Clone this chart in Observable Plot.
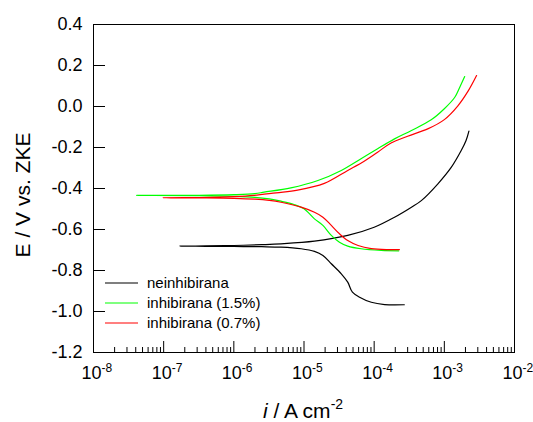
<!DOCTYPE html>
<html><head><meta charset="utf-8">
<script src="https://cdn.jsdelivr.net/npm/d3@7"></script>
<script src="https://cdn.jsdelivr.net/npm/@observablehq/plot@0.6"></script>
<style>body{margin:0;background:#fff} svg{display:block}</style>
</head><body><div id="chart"></div>
<script>
const seriesNames = ["neinhibirana", "inhibirana (1.5%)", "inhibirana (0.7%)"];
const seriesColors = ["#000000", "#00ff00", "#ff0000"];

// each curve traced from the cathodic end, through Ecorr, to the anodic end
const blackI = [2.69e-4, 1.41e-4, 9.1e-5, 6.2e-5, 4.9e-5, 4.2e-5, 3.4e-5, 2.45e-5, 1.86e-5, 1.41e-5, 9.1e-6, 4.7e-6, 2.5e-6, 1.0e-6, 4.0e-7, 1.7e-7,
  4.0e-7, 1.0e-6, 2.5e-6, 4.7e-6, 1.41e-5, 4.2e-5, 1.0e-4, 1.95e-4, 3.4e-4, 4.7e-4, 8.1e-4, 1.26e-3, 1.74e-3, 2.04e-3, 2.24e-3];
const blackE = [-0.967, -0.966, -0.955, -0.930, -0.906, -0.857, -0.816, -0.767, -0.727, -0.707, -0.694, -0.686, -0.684, -0.683, -0.682, -0.681,
  -0.680, -0.678, -0.674, -0.670, -0.657, -0.629, -0.589, -0.540, -0.491, -0.459, -0.377, -0.296, -0.215, -0.166, -0.120];

const greenI = [2.24e-4, 1.26e-4, 6.5e-5, 4.2e-5, 3.2e-5, 2.45e-5, 1.86e-5, 1.41e-5, 1.0e-5, 7.2e-6, 4.7e-6, 3.2e-6, 2.0e-6, 1.0e-6, 3.2e-7, 4.1e-8,
  3.2e-7, 1.0e-6, 2.0e-6, 2.7e-6, 6.5e-6, 1.58e-5, 3.4e-5, 6.5e-5, 1.12e-4, 1.95e-4, 3.4e-4, 6.5e-4, 1.0e-3, 1.41e-3, 1.66e-3, 1.95e-3];
const greenE = [-0.704, -0.702, -0.694, -0.681, -0.662, -0.629, -0.580, -0.548, -0.499, -0.478, -0.462, -0.451, -0.443, -0.438, -0.435, -0.434,
  -0.433, -0.430, -0.425, -0.418, -0.397, -0.361, -0.312, -0.255, -0.206, -0.158, -0.117, -0.065, -0.011, 0.045, 0.094, 0.146];

const redI = [2.29e-4, 1.58e-4, 9.1e-5, 5.9e-5, 4.2e-5, 3.2e-5, 2.45e-5, 1.86e-5, 1.41e-5, 9.1e-6, 4.7e-6, 3.2e-6, 2.0e-6, 1.0e-6, 3.2e-7, 9.8e-8,
  3.2e-7, 1.0e-6, 1.95e-6, 4.0e-6, 8.1e-6, 1.95e-5, 4.2e-5, 7.2e-5, 1.12e-4, 1.74e-4, 3.0e-4, 5.9e-4, 1.0e-3, 1.55e-3, 2.19e-3, 2.88e-3];
const redE = [-0.698, -0.698, -0.693, -0.678, -0.654, -0.621, -0.580, -0.540, -0.516, -0.491, -0.467, -0.458, -0.452, -0.448, -0.446, -0.445,
  -0.444, -0.440, -0.434, -0.421, -0.408, -0.375, -0.312, -0.267, -0.223, -0.178, -0.145, -0.108, -0.064, 0.002, 0.076, 0.151];

const xMajorTicks = [1e-8, 1e-7, 1e-6, 1e-5, 1e-4, 1e-3, 1e-2];
const yTicks = [-1.2, -1.0, -0.8, -0.6, -0.4, -0.2, 0.0, 0.2, 0.4];
const xLabel = ["i", " / A cm", "-2"];
const yLabel = "E / V vs. ZKE";

const xMinorTicks = [];
xMajorTicks.slice(0, -1).forEach(d => { for (let k = 2; k <= 9; k++) xMinorTicks.push(d * k); });

const allI = [blackI, greenI, redI];
const allE = [blackE, greenE, redE];
const rows = [];
allI.forEach((arr, s) => arr.forEach((v, j) => rows.push({series: seriesNames[s], i: v, E: allE[s][j], order: j})));

const font = "'Liberation Sans', Arial, sans-serif";
const W = 533, H = 422, mL = 93, mR = 19, mT = 24, mB = 70;
const plotW = W - mL - mR, plotH = H - mT - mB;

const svg = Plot.plot({
  width: W, height: H,
  marginLeft: mL, marginRight: mR, marginTop: mT, marginBottom: mB,
  style: {fontFamily: font, background: "#fff", color: "#000"},
  x: {type: "log", domain: [1e-8, 1e-2]},
  y: {domain: [-1.2, 0.4]},
  color: {domain: seriesNames, range: seriesColors},
  marks: [
    Plot.axisY({ticks: yTicks, tickSize: 0, tickPadding: 11, fontSize: 18, label: null, tickFormat: d => d.toFixed(1)}),
    Plot.axisX({ticks: xMajorTicks, tickSize: 0, tickPadding: 14, fontSize: 18, label: null, tickFormat: d => "10^" + Math.round(Math.log10(d))}),
    // inward ticks
    Plot.tickY(yTicks, {y: d => d, stroke: "#000", insetRight: plotW - 12}),
    Plot.tickX(xMajorTicks, {x: d => d, stroke: "#000", insetTop: plotH - 11}),
    Plot.tickX(xMinorTicks, {x: d => d, stroke: "#000", insetTop: plotH - 5}),
    ...seriesNames.map(name => Plot.line(rows.filter(r => r.series === name), {
      x: "i", y: "E", stroke: "series", strokeWidth: 1.2, curve: "catmull-rom"
    })),
    Plot.frame({stroke: "#000", strokeWidth: 1})
  ]
});

const s = d3.select(svg);
// superscript exponents on x tick labels
s.selectAll('g[aria-label="x-axis tick label"] text').each(function () {
  const t = this.textContent;
  if (!t.includes("^")) return;
  const [b, e] = t.split("^");
  const el = d3.select(this);
  el.text(null).attr("text-anchor", "start").attr("x", -12);
  el.append("tspan").text(b);
  el.append("tspan").attr("dy", -7).attr("font-size", 12).text(e);
});

// axis titles
s.append("text")
  .attr("transform", "translate(30,195) rotate(-90)")
  .attr("text-anchor", "middle").attr("font-size", 21).attr("font-family", font)
  .attr("fill", "#000").text(yLabel);
const xt = s.append("text")
  .attr("x", 303).attr("y", 418).attr("text-anchor", "middle")
  .attr("font-size", 21).attr("font-family", font).attr("fill", "#000");
xt.append("tspan").attr("font-style", "italic").text(xLabel[0]);
xt.append("tspan").text(xLabel[1]);
xt.append("tspan").attr("dy", -9).attr("font-size", 14).text(xLabel[2]);

// legend
const lg = s.append("g").attr("font-family", font).attr("font-size", 15).attr("text-anchor", "start");
seriesNames.forEach((name, k) => {
  const y = 283 + k * 20;
  lg.append("line").attr("x1", 105).attr("x2", 138).attr("y1", y).attr("y2", y)
    .attr("stroke", seriesColors[k]).attr("stroke-width", 1.2);
  lg.append("text").attr("x", 147).attr("y", y + 5).attr("text-anchor", "start").attr("fill", "#000").text(name);
});

document.getElementById("chart").appendChild(svg);
</script>
</body></html>
